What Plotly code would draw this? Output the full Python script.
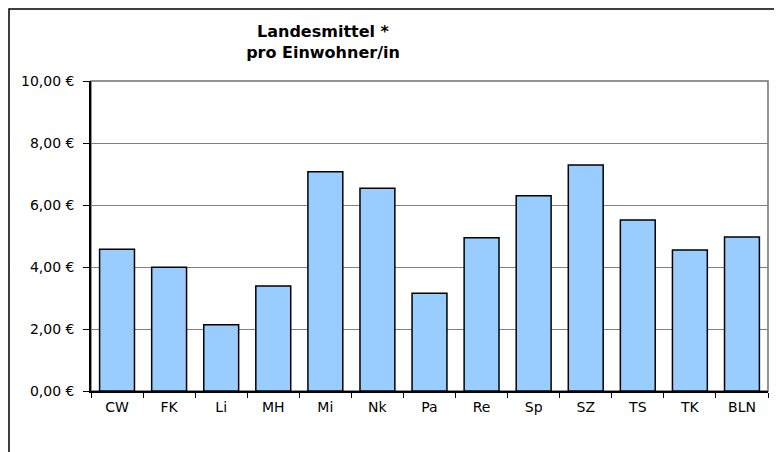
import plotly.graph_objects as go

categories = ["CW", "FK", "Li", "MH", "Mi", "Nk", "Pa", "Re", "Sp", "SZ", "TS", "TK", "BLN"]
values = [4.57, 3.99, 2.14, 3.39, 7.07, 6.54, 3.15, 4.94, 6.30, 7.29, 5.52, 4.55, 4.97]
ytick_vals = [0, 2, 4, 6, 8, 10]
ytick_text = ["0,00 €", "2,00 €", "4,00 €", "6,00 €", "8,00 €", "10,00 €"]
title_lines = ["Landesmittel *", "pro Einwohner/in"]

W, H = 782, 452
L, R, T, B = 83, 760, 73, 383
pw, ph = R - L, B - T
FONT = "DejaVu Sans, Arial, sans-serif"

fig = go.Figure()
fig.add_trace(go.Bar(
    x=categories, y=values,
    marker=dict(color="#99CCFF", line=dict(color="#000000", width=1.5)),
    hoverinfo="x+y",
))

fig.update_layout(
    width=W, height=H,
    margin=dict(l=L, r=W - R, t=T, b=H - B, pad=0),
    paper_bgcolor="white", plot_bgcolor="white",
    font=dict(family=FONT, size=14, color="black"),
    bargap=0.33,
    showlegend=False,
    title=dict(
        text="<b>" + title_lines[0] + "</b><br><b>" + title_lines[1] + "</b>",
        x=(315 - L) / pw, xref="paper", xanchor="center",
        y=1 - 29 / H, yanchor="middle", yref="container",
        font=dict(size=16, family=FONT),
    ),
    xaxis=dict(
        showline=True, linecolor="black", linewidth=1.5,
        ticks="outside", tickson="boundaries", ticklen=5, tickcolor="black", tickwidth=1,
        showgrid=False, tickfont=dict(size=14), ticklabelstandoff=2,
    ),
    yaxis=dict(
        range=[0, 10], tickvals=ytick_vals, ticktext=ytick_text,
        showline=True, linecolor="black", linewidth=1.5,
        ticks="outside", ticklen=6, tickcolor="black", tickwidth=1,
        showgrid=True, gridcolor="#808080", gridwidth=1,
        tickfont=dict(size=14), zeroline=False, ticklabelstandoff=6,
    ),
    shapes=[
        dict(type="rect", xref="paper", yref="paper", x0=0, x1=1, y0=0, y1=1,
             line=dict(color="#707070", width=1.5), layer="below"),
        dict(type="rect", xref="paper", yref="paper",
             x0=(1 - L) / pw, x1=(W + 20 - L) / pw,
             y0=(B - (H + 20)) / ph, y1=(B - 1) / ph,
             line=dict(color="black", width=1.5)),
    ],
)

fig.write_html("out.html")
